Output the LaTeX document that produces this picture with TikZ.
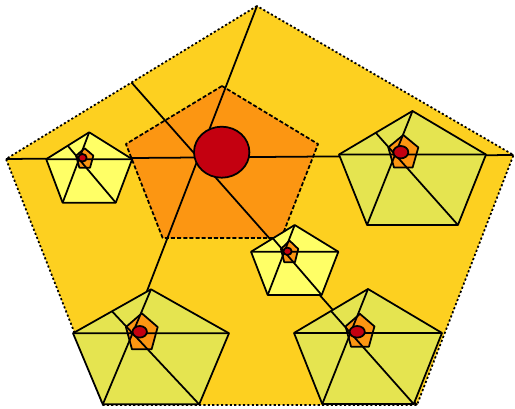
\documentclass[tikz,border=0pt]{standalone}
\usetikzlibrary{calc}

\definecolor{goldcell}{RGB}{253,208,32}
\definecolor{orangecore}{RGB}{252,150,18}
\definecolor{redseed}{RGB}{196,0,16}
\definecolor{palecell}{RGB}{255,255,102}
\definecolor{olivecell}{RGB}{229,228,80}

% unit pentagon, top vertex up
\newcommand{\pentagon}{(90:1) -- (162:1) -- (234:1) -- (306:1) -- (18:1) -- cycle}

\begin{document}
\begin{tikzpicture}[x=0.02cm, y=-0.02cm, line join=round,
        edge/.style={line width=1pt},
        seed/.style={edge, fill=redseed}]
        \useasboundingbox (0,0) rectangle (515,409);

        % Outer cell (dotted border)
        \coordinate (big-t) at (257,6);
        \coordinate (big-l) at (6,159);
        \coordinate (big-r) at (513.5,155);
        \coordinate (big-bl) at (103,405);
        \coordinate (big-br) at (417,405);
        \coordinate (big-m) at ($(big-t)!0.5!(big-l)$);
        \draw[edge, fill=goldcell, dash pattern=on 1.2pt off 1.3pt] (big-t) -- (big-l) -- (big-bl) -- (big-br) -- (big-r) -- cycle;

        % Core of the outer cell (dashed border)
        \begin{scope}[shift={(222,170)}, xscale=101, yscale=-84]
            \draw[edge, fill=orangecore, dash pattern=on 2.3pt off 1.2pt] \pentagon;
        \end{scope}

        % Diagonals and seed of the outer cell
        \draw[edge] (big-l) -- (big-r) (big-t) -- (big-bl) (big-m) -- (big-br);
        \draw[seed] (221.7,152.2) ellipse [x radius=27.7, y radius=25.5];

        % Small cells: name/centre/radii/fill, core centre/radii, seed centre/radii
        \foreach \n/\cx/\cy/\rx/\ry/\col/\ox/\oy/\orx/\ory/\ex/\ey/\erx/\ery in {
                L/89.2/171.2/45.2/38.9/palecell/84.7/159/9.1/10.7/82.5/157.8/4.2/3.8,
                M/294.7/263.7/45.9/38.7/palecell/289.6/252.6/9.1/11.9/287.5/251.3/4.2/3.7,
                R/412.5/174/77.3/63/olivecell/403.3/153/15.8/18/400.8/152.2/7.5/6.2,
                BL/151/352.9/82/63.6/olivecell/141.8/333.2/16.7/19.9/139.7/331.8/7.2/5.8,
                BR/368/352.6/77.8/63.6/olivecell/360/332/15.2/18.1/357.2/331.8/7.6/5.8}{
            \begin{scope}[shift={(\cx,\cy)}, xscale=\rx, yscale=-\ry]
                \draw[edge, fill=\col] \pentagon;
                \foreach \a/\v in {90/t,162/l,234/bl,306/br,18/r}
                    \coordinate (\n-\v) at (\a:1);
                \coordinate (\n-m) at (126:0.809);
            \end{scope}
            \begin{scope}[shift={(\ox,\oy)}, xscale=\orx, yscale=-\ory]
                \draw[edge, fill=orangecore] \pentagon;
            \end{scope}
            \draw[edge] (\n-l) -- (\n-r) (\n-t) -- (\n-bl) (\n-m) -- (\n-br);
            \draw[seed] (\ex,\ey) ellipse [x radius=\erx, y radius=\ery];
        }
\end{tikzpicture}
\end{document}
